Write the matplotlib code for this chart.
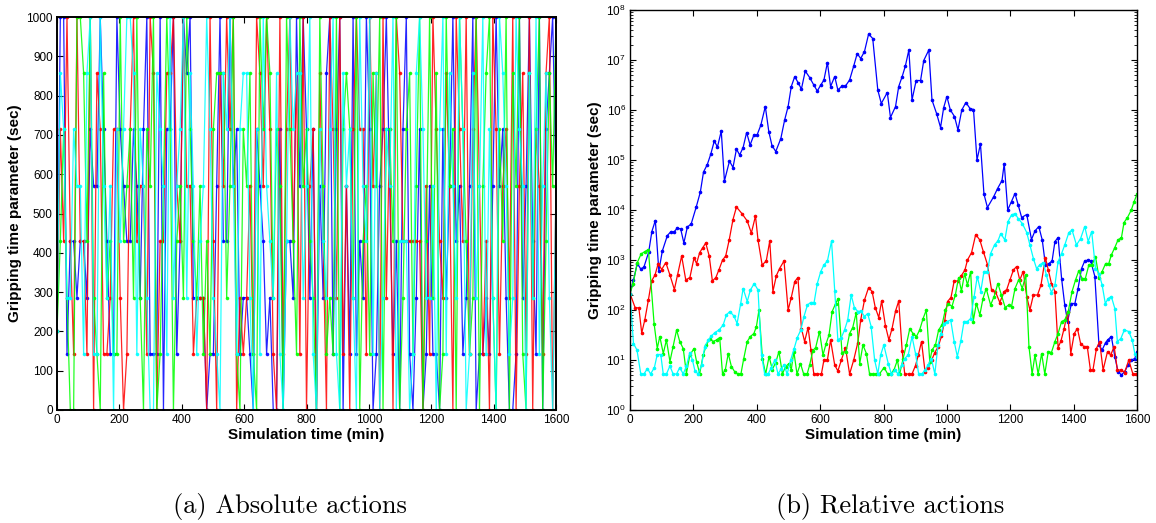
import numpy as np
import matplotlib
matplotlib.use("Agg")
import matplotlib.pyplot as plt
from matplotlib.ticker import LogLocator, NullFormatter

plt.rcParams['font.family'] = ['Liberation Sans', 'DejaVu Sans']
plt.rcParams['mathtext.fontset'] = 'custom'
plt.rcParams['mathtext.rm'] = 'Liberation Sans'
plt.rcParams['mathtext.it'] = 'Liberation Sans:italic'
plt.rcParams['mathtext.bf'] = 'Liberation Sans:bold'

# ---------------- (a) Absolute actions: gripping time (sec) per step ----------------
abs_blue = [200, 1000, 1000, 143, 429, 429, 286, 429, 429, 286, 714, 571, 571, 1000, 714, 429, 143, 143, 1000, 714,
            571, 429, 429, 714, 571, 286, 714, 1000, 143, 143, 143, 1000, 0, 714, 714, 1000, 143, 429, 1000, 857,
            1000, 286, 286, 286, 286, 0, 143, 143, 571, 1000, 429, 429, 1000, 571, 714, 143, 286, 286, 143, 0,
            714, 571, 429, 143, 286, 0, 0, 714, 0, 429, 429, 286, 1000, 571, 1000, 714, 286, 714, 0, 571,
            286, 857, 1000, 143, 714, 1000, 0, 571, 143, 1000, 143, 429, 286, 1000, 714, 0, 143, 571, 714, 1000,
            571, 143, 429, 0, 714, 1000, 143, 0, 286, 714, 0, 143, 571, 143, 143, 0, 714, 286, 571, 1000,
            429, 571, 143, 286, 571, 1000, 0, 143, 143, 286, 143, 571, 1000, 571, 714, 286, 0, 0, 143, 1000,
            286, 571, 1000, 429, 143, 1000, 0, 714, 857, 1000, 571]
abs_red = [200, 714, 429, 1000, 429, 143, 1000, 429, 429, 143, 1000, 0, 857, 714, 143, 143, 286, 714, 714, 286,
           0, 143, 714, 1000, 429, 571, 571, 143, 1000, 857, 0, 429, 429, 857, 857, 1000, 571, 429, 1000, 571,
           571, 143, 286, 286, 286, 0, 1000, 429, 0, 857, 571, 1000, 714, 1000, 0, 286, 143, 286, 571, 143,
           1000, 857, 571, 1000, 714, 143, 0, 1000, 143, 714, 1000, 429, 857, 143, 1000, 0, 571, 714, 0, 857,
           429, 0, 1000, 714, 286, 1000, 143, 571, 0, 714, 1000, 714, 714, 143, 1000, 571, 857, 0, 1000, 286,
           714, 0, 1000, 857, 429, 429, 429, 429, 429, 429, 0, 571, 143, 1000, 714, 429, 286, 857, 571, 0,
           1000, 714, 429, 1000, 143, 714, 1000, 571, 143, 429, 0, 1000, 714, 143, 571, 714, 286, 1000, 0, 571,
           857, 143, 1000, 0, 714, 571, 143, 857, 1000, 0, 571]
abs_green = [200, 429, 714, 286, 0, 0, 1000, 1000, 857, 429, 1000, 286, 143, 0, 857, 286, 429, 143, 143, 1000,
             429, 571, 714, 286, 1000, 286, 0, 714, 571, 1000, 0, 143, 571, 1000, 714, 0, 429, 571, 286, 1000,
             714, 429, 286, 571, 143, 429, 143, 714, 857, 857, 857, 286, 571, 1000, 143, 0, 714, 571, 857, 143,
             0, 1000, 714, 1000, 857, 286, 714, 571, 0, 1000, 714, 429, 143, 1000, 571, 714, 429, 286, 0, 1000,
             571, 143, 286, 143, 1000, 0, 714, 857, 714, 286, 1000, 0, 429, 571, 143, 857, 571, 1000, 0, 714,
             714, 429, 1000, 0, 286, 714, 857, 143, 571, 1000, 0, 429, 1000, 286, 857, 0, 143, 1000, 571, 714,
             0, 1000, 714, 429, 143, 286, 1000, 0, 571, 857, 1000, 286, 0, 714, 429, 1000, 0, 857, 571, 1000,
             143, 0, 857, 286, 714, 1000, 0, 429, 857, 571, 1000]
abs_cyan = [200, 857, 714, 286, 286, 714, 571, 571, 143, 857, 1000, 143, 143, 1000, 571, 286, 571, 0, 714, 429,
            714, 1000, 1000, 857, 143, 714, 571, 286, 0, 0, 857, 714, 571, 143, 1000, 286, 571, 714, 1000, 286,
            857, 571, 143, 429, 571, 1000, 714, 286, 143, 0, 857, 714, 1000, 571, 143, 714, 857, 857, 286, 0,
            714, 143, 1000, 571, 429, 286, 857, 143, 0, 429, 1000, 714, 857, 857, 286, 571, 1000, 143, 0, 714,
            429, 286, 714, 1000, 143, 0, 857, 571, 714, 286, 0, 1000, 571, 429, 1000, 143, 857, 0, 286, 714,
            571, 1000, 0, 429, 429, 429, 0, 143, 857, 1000, 714, 286, 286, 571, 0, 714, 1000, 143, 857, 571,
            286, 1000, 714, 0, 143, 857, 286, 571, 1000, 143, 714, 286, 0, 1000, 857, 571, 143, 286, 1000, 714,
            571, 0, 857, 286, 1000, 143, 571, 857, 286, 0, 571]

# ---------------- (b) Relative actions: time (min) and log10 of gripping time ----------------
rel_blue_t = [0, 11, 23, 34, 44, 59, 69, 80, 91, 102, 118, 128, 139, 149, 160, 170, 181, 193, 209, 222,
              232, 244, 255, 266, 276, 288, 298, 314, 325, 336, 346, 357, 368, 379, 391, 401,
              413, 427, 438, 448, 460, 476, 488, 499, 509, 520, 530, 541, 553, 567, 580, 591, 602, 612, 623, 633,
              646, 656, 669, 680, 693, 706, 717, 728, 740, 753, 766, 782, 793,
              812, 822, 838, 848, 859, 869, 880, 890, 903, 917, 927, 943, 953, 968, 980, 990, 1000, 1011, 1024, 1035,
              1047, 1060, 1073, 1084, 1095, 1106, 1117, 1128, 1148, 1160, 1174, 1181, 1192,
              1204, 1215, 1225, 1236, 1252, 1267, 1278, 1290, 1301, 1311, 1322, 1332, 1341, 1351, 1362, 1372, 1381,
              1393, 1404, 1414, 1425, 1435, 1446, 1454, 1467, 1480, 1490, 1501, 1509, 1519, 1530, 1540, 1551, 1561,
              1572, 1582, 1593, 1600]
rel_blue_log = [2.33, 2.6, 2.93, 2.82, 2.86, 3.16, 3.57, 3.79, 2.78, 3.18, 3.49, 3.56, 3.56, 3.64, 3.62, 3.34, 3.66, 3.72, 4.06, 4.36,
                4.76, 4.91, 5.12, 5.38, 5.26, 5.58, 4.58, 4.98, 4.85, 5.22, 5.10, 5.25, 5.55, 5.30, 5.50, 5.50,
                5.70, 6.07, 5.57, 5.29, 5.17, 5.43, 5.80, 6.07, 6.47, 6.67, 6.55, 6.42, 6.78, 6.65, 6.50, 6.38, 6.50, 6.60, 6.95, 6.47,
                6.67, 6.40, 6.48, 6.48, 6.60, 6.88, 7.13, 7.03, 7.17, 7.52, 7.43, 6.40, 6.13,
                6.35, 5.85, 6.07, 6.47, 6.67, 6.88, 7.2, 6.2, 6.59, 6.59, 6.99, 7.2, 6.2, 5.92, 5.65, 6.05, 6.27, 6.0, 5.87, 5.6,
                6.0, 6.15, 6.03, 6.01, 5.0, 5.32, 4.32, 4.05, 4.27, 4.43, 4.59, 4.93, 4.0,
                4.17, 4.33, 4.1, 3.85, 3.91, 3.41, 3.58, 3.67, 3.40, 2.90, 2.93, 2.98, 3.37, 3.45, 2.63, 2.1, 1.77,
                2.13, 2.13, 2.43, 2.83, 2.98, 3.0, 2.98, 2.67, 1.3, 1.2, 1.35, 1.41, 1.47, 1.07, 0.77, 0.7, 0.77,
                0.9, 1.0, 1.03, 1.17]
rel_red_t = [0, 16, 28, 37, 47, 58, 68, 79, 89, 100, 113, 126, 140, 150, 163, 176, 189, 202, 210, 220,
             230, 239, 250, 260, 271, 281, 292, 302, 313, 325, 336, 353, 370, 383, 396,
             404, 417, 430, 441, 451, 462, 472, 486, 499, 509, 520, 530, 541, 551, 562, 571, 580, 591, 604, 612,
             623, 633, 646, 656, 667, 680, 693, 706, 719, 728, 740, 753, 764, 774, 785,
             794, 806, 817, 827, 838, 848, 859, 867, 880, 890, 901, 910, 920, 931, 941, 952, 962, 973, 983, 993,
             1002, 1013, 1023, 1036, 1046, 1057, 1065, 1078, 1091, 1104, 1115, 1128, 1141, 1153, 1167, 1181, 1189,
             1199, 1210, 1220, 1230, 1241, 1252, 1262, 1273, 1286, 1297, 1311, 1320, 1330, 1341, 1351, 1360, 1370,
             1381, 1391, 1402, 1412, 1422, 1432, 1443, 1453, 1461, 1472, 1482, 1493, 1507, 1517, 1528, 1538, 1551,
             1561, 1574, 1587, 1598]
rel_red_log = [2.33, 2.05, 2.04, 1.54, 1.81, 2.2, 2.58, 2.7, 2.93, 2.81, 2.95, 2.7, 2.41, 2.7, 3.08, 2.6, 2.65, 3.04, 2.93, 3.15,
               3.25, 3.34, 3.08, 2.58, 2.65, 2.81, 3.0, 3.08, 3.4, 3.81, 4.06, 3.93, 3.78, 3.54, 3.88,
               3.4, 2.9, 2.98, 3.38, 2.37, 2.69, 2.83, 2.98, 2.0, 2.25, 2.57, 2.65, 1.63, 1.37, 1.65, 1.2, 0.72, 0.72, 0.72, 1.0,
               1.0, 1.4, 0.9, 0.78, 1.0, 1.25, 0.72, 1.0, 1.35, 1.8, 2.2, 2.45, 2.37, 2.05, 1.85,
               2.18, 1.69, 1.4, 1.63, 1.98, 2.18, 1.18, 0.72, 0.72, 0.72, 0.89, 1.1, 1.37, 0.77, 0.85, 1.0, 1.15, 1.27, 1.48, 1.78,
               2.17, 2.25, 2.58, 2.58, 2.69, 2.8, 3.0, 3.15, 3.51, 3.4, 3.17, 2.91, 2.4, 2.37, 2.15, 2.37, 2.41,
               2.6, 2.8, 2.87, 2.6, 2.77, 2.27, 2.0, 2.3, 2.3, 2.5, 3.05, 2.8, 2.53, 2.37, 1.25, 1.38, 1.63,
               1.97, 1.13, 1.53, 1.63, 1.33, 1.27, 1.27, 0.8, 0.8, 1.23, 1.37, 0.8, 1.17, 1.1, 1.27, 0.8, 0.8,
               0.75, 1.0, 0.72, 0.72]
rel_green_t = [0, 10, 23, 35, 47, 58, 76, 86, 94, 105, 115, 126, 136, 147, 157, 168, 178, 189, 202,
               210, 220, 231, 241, 252, 262, 273, 283, 292, 301, 310, 320, 330, 340, 350, 359, 370, 380, 391, 399, 407,
               418, 428, 439, 449, 460, 470, 481, 491, 502, 509, 517, 527, 538, 548, 559, 567, 577, 586, 598, 609,
               619, 628, 638, 649, 657, 669, 682, 693, 703, 714, 725, 735, 746, 756, 767, 777, 787,
               802, 813, 823, 833, 844, 851, 862, 872, 883, 893, 904, 914, 925, 935, 946, 953, 964, 974, 985, 995,
               1004, 1016, 1027, 1037, 1046, 1056, 1065, 1075, 1083, 1093, 1104, 1114, 1124, 1138, 1149, 1161, 1172,
               1184, 1195,
               1204, 1215, 1227, 1238, 1249, 1259, 1269, 1278, 1288, 1299, 1309, 1320, 1330, 1341, 1351, 1362, 1372,
               1383, 1395, 1406, 1416, 1427, 1437, 1448, 1458, 1469, 1480, 1490, 1501, 1511, 1519, 1530, 1540, 1551,
               1559, 1570, 1582, 1590, 1600]
rel_green_log = [2.33, 2.53, 2.95, 3.12, 3.17, 3.21, 1.73, 1.23, 1.47, 1.13, 1.4, 0.97, 1.27, 1.6, 1.37, 1.23, 0.73, 1.1, 1.23,
                 0.97, 0.73, 1.1, 1.3, 1.43, 1.37, 1.4, 1.45, 0.72, 0.81, 1.13, 0.87, 0.77, 0.72, 0.72, 1.03, 1.37, 1.47, 1.53, 1.67, 2.0,
                 1.03, 0.72, 1.07, 0.81, 0.95, 1.17, 0.72, 0.87, 0.93, 0.81, 1.17, 0.72, 0.93, 0.72, 0.72, 0.9, 1.19, 1.25, 1.57, 1.1,
                 1.33, 1.5, 1.97, 2.13, 2.23, 1.15, 1.17, 1.53, 1.65, 1.95, 0.93, 1.3, 1.13, 0.72, 0.72, 0.72, 0.72,
                 0.85, 0.72, 0.72, 0.8, 1.0, 0.72, 1.03, 1.3, 1.63, 1.53, 1.47, 1.6, 1.83, 2.0, 0.97, 1.2, 1.3, 1.6, 1.71, 2.0,
                 2.13, 2.07, 2.31, 2.65, 2.38, 2.73, 2.5, 2.77, 1.77, 2.13, 1.9, 2.23, 2.43, 2.1, 2.27, 2.53, 2.3,
                 2.05, 2.1,
                 2.07, 2.43, 2.61, 2.43, 2.7, 1.27, 0.72, 1.1, 0.72, 1.13, 0.72, 1.17, 1.15, 1.37, 1.53, 1.77, 1.8,
                 1.97, 2.37, 2.6, 2.78, 2.63, 2.63, 2.9, 2.9, 3.07, 2.65, 2.77, 2.93, 2.93, 3.1, 3.25, 3.4, 3.45,
                 3.75, 3.85, 4.0, 4.15, 4.32]
rel_cyan_t = [0, 11, 22, 34, 44, 55, 65, 77, 86, 97, 105, 115, 126, 136, 147, 157, 168, 178, 189, 197,
              205, 215, 226, 236, 247, 257, 268, 281, 294, 304, 315, 328, 338, 349, 357, 370, 380, 392, 404, 415,
              425, 436, 446, 457, 467, 478, 486, 496, 507, 518, 528, 539, 549, 560, 570, 581, 591, 602, 612, 623,
              636, 646, 656, 667, 677, 687, 698, 708, 719, 729, 740, 750, 761, 772, 782, 791, 801,
              815, 825, 836, 846, 857, 867, 878, 890, 901, 911, 921, 931, 941, 951, 962, 972, 981, 991, 1001, 1012,
              1023, 1033, 1044, 1054, 1065, 1075, 1086, 1096, 1107, 1117, 1128, 1138, 1151, 1161, 1170, 1183, 1193,
              1204, 1215, 1225, 1238, 1252, 1262, 1273, 1283, 1293, 1304, 1314, 1322, 1330, 1341, 1351, 1362, 1372,
              1385, 1395, 1409, 1422, 1435, 1446, 1457, 1469, 1480, 1490, 1500, 1509, 1519, 1530, 1538, 1549, 1560,
              1574, 1585, 1593, 1600]
rel_cyan_log = [2.33, 1.33, 1.2, 0.72, 0.72, 0.83, 0.72, 0.85, 1.11, 1.11, 0.72, 0.72, 0.88, 0.72, 0.72, 0.85, 0.72, 0.88, 1.15, 1.0,
                0.78, 0.72, 0.9, 1.27, 1.4, 1.48, 1.55, 1.6, 1.7, 1.9, 1.97, 1.88, 1.73, 2.12, 2.43, 2.17, 2.4, 2.53, 2.4, 1.1,
                0.72, 0.72, 0.85, 1.0, 0.72, 0.83, 0.9, 0.72, 1.0, 1.23, 1.45, 1.6, 1.87, 2.1, 2.15, 2.15, 2.53, 2.77, 2.9, 2.98,
                3.38, 2.38, 1.4, 1.45, 1.6, 1.8, 2.3, 2.05, 1.97, 1.98, 1.87, 1.93, 1.67, 1.0, 0.72, 1.1, 1.3,
                0.93, 0.72, 0.8, 0.72, 0.9, 1.03, 1.1, 1.47, 1.13, 0.72, 0.72, 0.8, 0.9, 1.03, 0.72, 1.3, 1.53, 1.73, 1.77, 1.8,
                1.37, 1.07, 1.38, 1.77, 1.77, 1.83, 2.27, 2.67, 2.37, 2.77, 2.77, 3.13, 3.31, 3.38, 3.53, 3.4, 3.77,
                3.9, 3.93, 3.83, 3.73, 3.55, 3.3, 3.03, 2.83, 2.9, 2.95, 2.7, 2.5, 2.35, 2.5, 2.97, 3.13, 3.3,
                3.55, 3.6, 3.3, 3.43, 3.67, 3.37, 3.57, 2.83, 2.73, 2.5, 2.13, 2.23, 2.27, 2.03, 1.37, 1.43, 1.6,
                1.57, 1.4, 1.13, 1.07]

x_ticks = [0, 200, 400, 600, 800, 1000, 1200, 1400, 1600]
abs_y_ticks = [0, 100, 200, 300, 400, 500, 600, 700, 800, 900, 1000]
xlabel = "Simulation time (min)"
ylabel = "Gripping time parameter (sec)"
captions = ["(a) Absolute actions", "(b) Relative actions"]

colors = {"blue": "#0000ff", "red": "#ff0000", "green": "#00ff00", "cyan": "#00ffff"}

W, H = 1156, 523
fig = plt.figure(figsize=(W / 100, H / 100), dpi=100)
ax1 = fig.add_axes([57 / W, 113 / H, 499 / W, 393 / H])
ax2 = fig.add_axes([630 / W, 113 / H, 507 / W, 400 / H])

line_kw = dict(marker='.', markersize=3.2, linewidth=0.9)

for name, ser in [("blue", abs_blue), ("red", abs_red), ("green", abs_green), ("cyan", abs_cyan)]:
    t = np.linspace(0, 1600, len(ser))
    ax1.plot(t, ser, color=colors[name], alpha=0.85, **line_kw)

for name, tt, lv in [("blue", rel_blue_t, rel_blue_log), ("red", rel_red_t, rel_red_log),
                     ("green", rel_green_t, rel_green_log), ("cyan", rel_cyan_t, rel_cyan_log)]:
    ax2.plot(tt, np.power(10.0, lv), color=colors[name], **line_kw)

for ax in (ax1, ax2):
    ax.set_xlim(0, 1600)
    ax.set_xticks(x_ticks)
    ax.tick_params(direction='in', top=True, right=True, length=4, width=0.8,
                   labelsize=8.5, pad=3)
    ax.tick_params(which='minor', direction='in', top=True, right=True, length=2, width=0.6)
    ax.set_xlabel(xlabel, fontsize=11, fontweight='bold', labelpad=1)
    ax.set_ylabel(ylabel, fontsize=11, fontweight='bold', labelpad=3)
    for s in ax.spines.values():
        s.set_linewidth(1.0)

ax1.set_ylim(0, 1000)
ax1.set_yticks(abs_y_ticks)
for s in ax1.spines.values():
    s.set_linewidth(1.4)

ax2.set_yscale('log')
ax2.set_ylim(1, 1e8)
ax2.yaxis.set_major_locator(LogLocator(base=10, numticks=20))
ax2.yaxis.set_minor_locator(LogLocator(base=10, subs=np.arange(2, 10), numticks=20))
ax2.yaxis.set_minor_formatter(NullFormatter())

fig.text(290 / W, 1 - 507 / H, captions[0], ha='center', va='center', fontfamily='cmr10', fontsize=19)
fig.text(890 / W, 1 - 507 / H, captions[1], ha='center', va='center', fontfamily='cmr10', fontsize=19)

fig.savefig("out.png", dpi=100)
